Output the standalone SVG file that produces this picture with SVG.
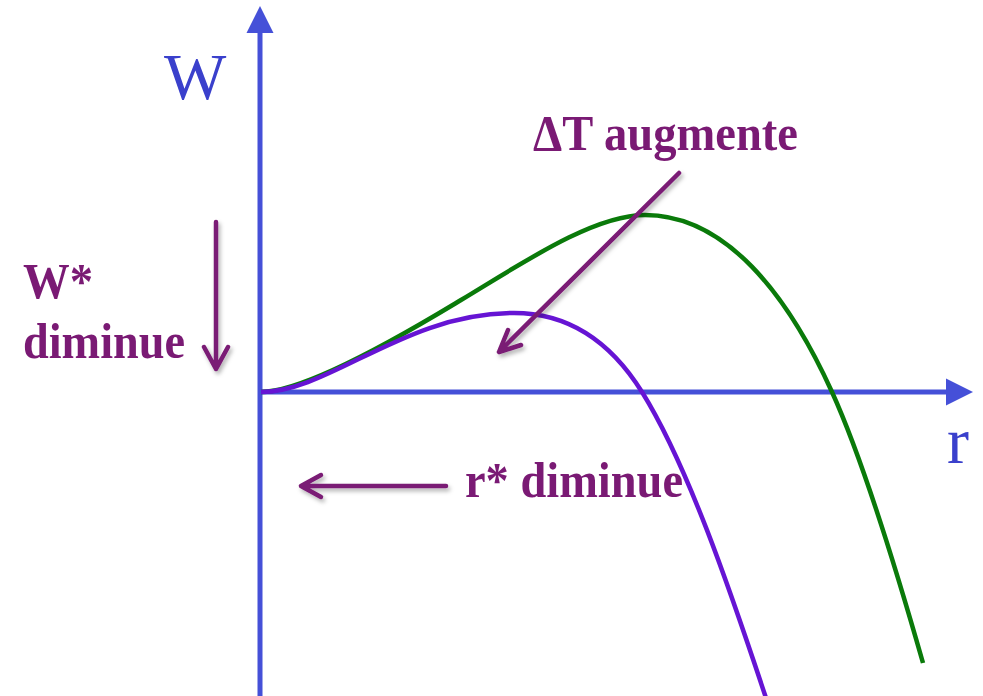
<svg xmlns="http://www.w3.org/2000/svg" width="983" height="696" viewBox="0 0 983 696">
<style>
.axis{stroke:#4550D8;stroke-width:5;fill:none}
.axhead{fill:#4550D8}
.lbl{font-family:"Liberation Serif","Times New Roman",serif;fill:#3A40CC}
.txt{font-family:"Liberation Serif","Times New Roman",serif;font-weight:bold;fill:#7A1A74}
.arr{stroke:#7A1A74;stroke-width:4.5;fill:none;stroke-linecap:round;stroke-linejoin:round}
.curve{fill:none;stroke-width:4.5}
</style>
<defs>
<filter id="sh" x="-20%" y="-20%" width="140%" height="140%">
<feDropShadow dx="2" dy="3" stdDeviation="2" flood-color="#000" flood-opacity="0.3"/>
</filter>
</defs>
<rect width="983" height="696" fill="#fff"/>
<g id="axes">
<line class="axis" x1="260" y1="696" x2="260" y2="30"/>
<polygon class="axhead" points="260,6 246.5,33 273.5,33"/>
<line class="axis" x1="258" y1="392" x2="948" y2="392"/>
<polygon class="axhead" points="973,392 946,378.5 946,405.5"/>
<text id="label-W" class="lbl" x="164" y="99" font-size="66">W</text>
<text id="label-r" class="lbl" x="947" y="463" font-size="66">r</text>
</g>
<g id="curve-green">
<path class="curve" stroke="#0A7A0A" d="M261,392 C311,392 431,318 461,300 C521,264 593,215 645,215 C725,215 787,293 832,392 C862,458 898,575.5 923,663"/>
</g>
<g id="curve-purple">
<path class="curve" stroke="#6614D4" d="M261,392 C330,392 404,313 514,313 C564,313 607,336 642,392 C687,464 729,586.5 766,698"/>
</g>
<g id="connectors" filter="url(#sh)">
<path class="arr" d="M216,222 L216,369 M204,347 L216,369 L228,347"/>
<path class="arr" d="M446,486 L301,486 M321,475 L301,486 L321,497"/>
<path class="arr" d="M679,173 L499,352 M508,330 L499,352 L521,345"/>
</g>
<g id="text-Wstar">
<text class="txt" x="23" y="298" font-size="50" textLength="70" lengthAdjust="spacingAndGlyphs">W*</text>
<text class="txt" x="23" y="358" font-size="50" textLength="162" lengthAdjust="spacingAndGlyphs">diminue</text>
</g>
<g id="text-dT">
<text class="txt" x="533" y="150" font-size="50" textLength="265" lengthAdjust="spacingAndGlyphs">ΔT augmente</text>
</g>
<g id="text-rstar">
<text class="txt" x="465" y="497" font-size="50" textLength="218" lengthAdjust="spacingAndGlyphs">r* diminue</text>
</g>
</svg>
